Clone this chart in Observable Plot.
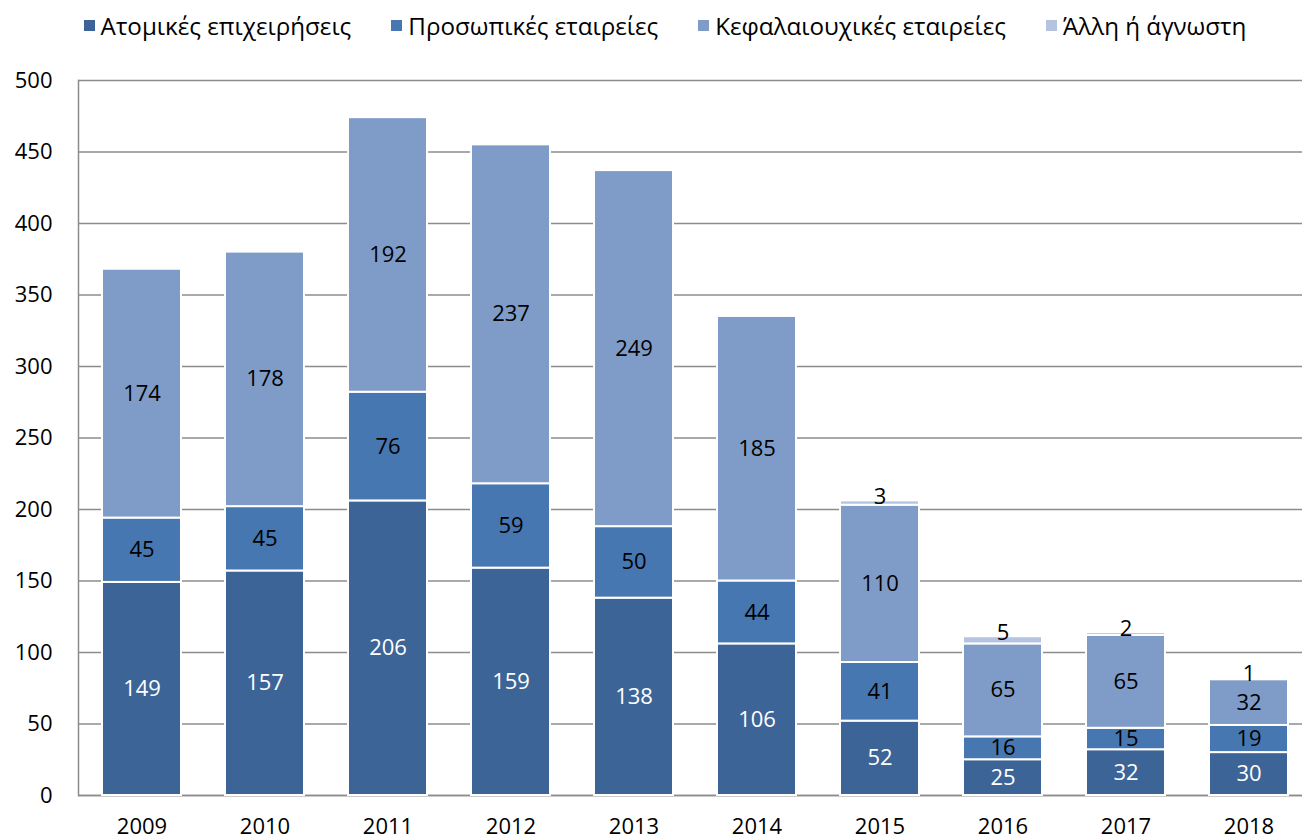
<!DOCTYPE html>
<html>
<head>
<meta charset="utf-8">
<script src="https://cdn.jsdelivr.net/npm/d3@7"></script>
<script src="https://cdn.jsdelivr.net/npm/@observablehq/plot@0.6"></script>
<style>
  html, body { margin: 0; padding: 0; background: #fff; overflow: hidden; }
  body { width: 1302px; height: 839px; font-family: "Open Sans", "Noto Sans", sans-serif; }
  #legend { height: 50px; display: flex; align-items: center; justify-content: center; font-size: 24.2px; color: #000; padding-left: 28px; box-sizing: border-box; }
  .item { display: flex; align-items: center; margin-right: 40px; }
  .item:last-child { margin-right: 0; }
  .sw { width: 11px; height: 11px; margin-right: 6px; }
</style>
</head>
<body>
<div id="legend"></div>
<div id="chart"></div>
<script>
const years = ["2009","2010","2011","2012","2013","2014","2015","2016","2017","2018"];
const seriesNames = ["Ατομικές επιχειρήσεις", "Προσωπικές εταιρείες", "Κεφαλαιουχικές εταιρείες", "Άλλη ή άγνωστη"];
const atomikes = [149,157,206,159,138,106,52,25,32,30];
const prosopikes = [45,45,76,59,50,44,41,16,15,19];
const kefalaiouxikes = [174,178,192,237,249,185,110,65,65,32];
const alli = [0,0,0,0,0,0,3,5,2,1];
const colors = ["#3d6496", "#4777b0", "#7f9cc8", "#b4c3e0"];
const labelColors = ["#ffffff", "#000000", "#000000", "#000000"];
const yTicks = [0,50,100,150,200,250,300,350,400,450,500];

const allSeries = [atomikes, prosopikes, kefalaiouxikes, alli];
const rows = [];
years.forEach((yr, i) => {
  let base = 0;
  allSeries.forEach((vals, s) => {
    const v = vals[i];
    rows.push({year: yr, series: seriesNames[s], idx: s, value: v, y1: base, y2: base + v, mid: base + v / 2});
    base += v;
  });
});
const inner = rows.filter(d => d.idx < 3);
const other = rows.filter(d => d.idx === 3 && d.value > 0);

// legend
const leg = document.getElementById("legend");
seriesNames.forEach((n, i) => {
  const it = document.createElement("div");
  it.className = "item";
  it.innerHTML = `<div class="sw" style="background:${colors[i]}"></div><span>${n}</span>`;
  leg.appendChild(it);
});

const FS = 22;
const chart = Plot.plot({
  width: 1302,
  height: 789,
  marginLeft: 78,
  marginRight: 0,
  marginTop: 30,
  marginBottom: 44,
  style: {fontFamily: "'Open Sans', 'Noto Sans', sans-serif", fontSize: FS + "px", color: "#000", background: "#fff"},
  x: {domain: years, range: [78, 1311], paddingInner: 0.36, paddingOuter: 0.18, label: null},
  y: {domain: [0, 500], label: null},
  color: {domain: seriesNames, range: colors},
  marks: [
    Plot.gridY(yTicks, {stroke: "#8c8c8c", strokeOpacity: 1, strokeWidth: 1.5}),
    Plot.frame({anchor: "left", stroke: "#8c8c8c", strokeWidth: 1.5}),
    Plot.ruleY([0], {stroke: "#8c8c8c", strokeWidth: 1.5}),
    Plot.rectY(rows.filter(d => d.value > 0), {x: "year", y1: "y1", y2: "y2", fill: "series", stroke: "#fff", strokeWidth: 2}),
    Plot.text(inner, {x: "year", y: "mid", text: d => String(d.value), fill: d => labelColors[d.idx], fontSize: FS}),
    Plot.text(other, {x: "year", y: "y2", text: d => String(d.value), fill: "#000", fontSize: FS, dy: -4}),
    Plot.axisY(yTicks, {tickSize: 0, tickPadding: 26, fontSize: FS, label: null}),
    Plot.axisX({tickSize: 0, tickPadding: 23, fontSize: FS, label: null})
  ]
});
document.getElementById("chart").appendChild(chart);
</script>
</body>
</html>
